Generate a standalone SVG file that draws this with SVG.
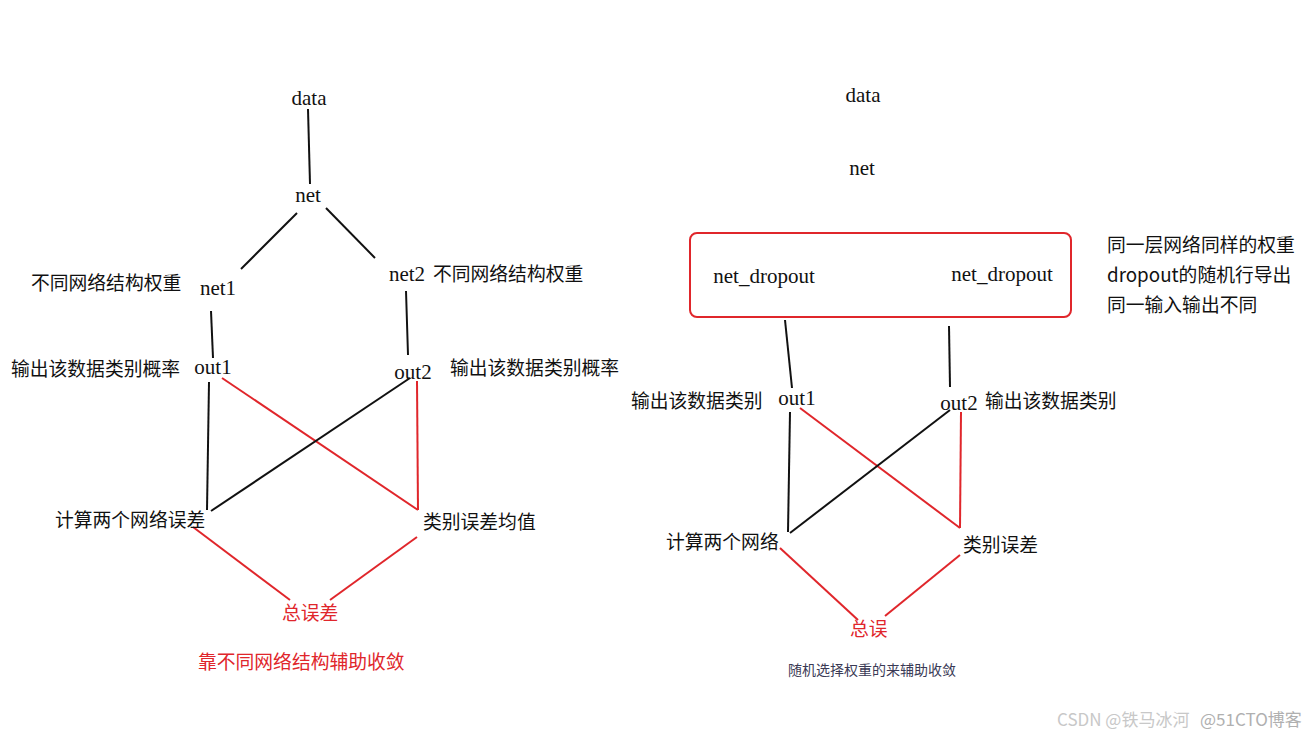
<svg xmlns="http://www.w3.org/2000/svg" width="1310" height="738" viewBox="0 0 1310 738">
<style>
.l{font-family:"Liberation Serif","DejaVu Serif",serif;font-size:21px;fill:#111;text-anchor:middle}
.c{font-family:"Noto Sans CJK SC","Noto Sans",sans-serif;font-size:18.8px;fill:#111}
.r{fill:#e0262b}
.k{stroke:#111;stroke-width:2;fill:none}
.e{stroke:#e0262b;stroke-width:2;fill:none}
</style>
<rect width="1310" height="738" fill="#fff"/>
<g id="connectors">
<line class="k" x1="308" y1="109" x2="310" y2="184"/>
<line class="k" x1="297" y1="213" x2="241" y2="269"/>
<line class="k" x1="326" y1="208" x2="375" y2="258"/>
<line class="k" x1="211" y1="311" x2="213" y2="358"/>
<line class="k" x1="406" y1="291" x2="408" y2="355"/>
<line class="k" x1="209" y1="382" x2="207" y2="510"/>
<line class="e" x1="222" y1="378" x2="418" y2="510"/>
<line class="k" x1="410" y1="378" x2="211" y2="511"/>
<line class="e" x1="417" y1="381" x2="418" y2="510"/>
<line class="e" x1="193" y1="527" x2="290" y2="600"/>
<line class="e" x1="417" y1="537" x2="330" y2="600"/>
<line class="k" x1="785" y1="320" x2="792" y2="388"/>
<line class="k" x1="949" y1="326" x2="950" y2="387"/>
<line class="k" x1="790" y1="412" x2="788" y2="532"/>
<line class="e" x1="800" y1="408" x2="960" y2="528"/>
<line class="k" x1="950" y1="410" x2="790" y2="533"/>
<line class="e" x1="961" y1="412" x2="960" y2="528"/>
<line class="e" x1="780" y1="548" x2="858" y2="620"/>
<line class="e" x1="960" y1="555" x2="885" y2="616"/>
</g>
<g id="l-data"><text class="l" x="309" y="105">data</text></g>
<g id="l-net"><text class="l" x="308" y="202">net</text></g>
<g id="l-net1"><text class="l" x="218" y="295">net1</text><text class="c" x="31" y="290">不同网络结构权重</text></g>
<g id="l-net2"><text class="l" x="407" y="281">net2</text><text class="c" x="433" y="281">不同网络结构权重</text></g>
<g id="l-out1"><text class="l" x="213" y="374">out1</text><text class="c" x="11" y="376">输出该数据类别概率</text></g>
<g id="l-out2"><text class="l" x="413" y="379">out2</text><text class="c" x="450" y="375">输出该数据类别概率</text></g>
<g id="l-calc"><text class="c" x="55" y="527">计算两个网络误差</text></g>
<g id="l-cls"><text class="c" x="423" y="529">类别误差均值</text></g>
<g id="l-total"><text class="c r" x="282" y="620">总误差</text></g>
<g id="l-caption"><text class="c r" x="198" y="669">靠不同网络结构辅助收敛</text></g>

<g id="r-data"><text class="l" x="863" y="102">data</text></g>
<g id="r-net"><text class="l" x="862" y="175">net</text></g>
<g id="r-box">
<rect x="690" y="233" width="381" height="84" rx="7" fill="none" stroke="#e0262b" stroke-width="2"/>
<text class="l" x="764" y="283">net_dropout</text>
<text class="l" x="1002" y="281">net_dropout</text>
</g>
<g id="r-note">
<text class="c" x="1107" y="252">同一层网络同样的权重</text>
<text class="c" x="1107" y="282">dropout的随机行导出</text>
<text class="c" x="1107" y="312">同一输入输出不同</text>
</g>
<g id="r-out1"><text class="l" x="797" y="405">out1</text><text class="c" x="631" y="408">输出该数据类别</text></g>
<g id="r-out2"><text class="l" x="959" y="410">out2</text><text class="c" x="985" y="408">输出该数据类别</text></g>
<g id="r-calc"><text class="c" x="666" y="549">计算两个网络</text></g>
<g id="r-cls"><text class="c" x="963" y="552">类别误差</text></g>
<g id="r-total"><text class="c r" x="850" y="636">总误</text></g>
<g id="r-caption"><text class="c" x="788" y="675" style="font-size:14px;fill:#3a3a55">随机选择权重的来辅助收敛</text></g>
<g id="watermark"><text x="1057" y="726" style="font-family:'Noto Sans CJK SC',sans-serif;font-size:17px;fill:#c8c8c8">CSDN @铁马冰河</text><text x="1200" y="726" style="font-family:'Noto Sans CJK SC',sans-serif;font-size:17px;fill:#b0b0b0">@51CTO博客</text></g>
</svg>
